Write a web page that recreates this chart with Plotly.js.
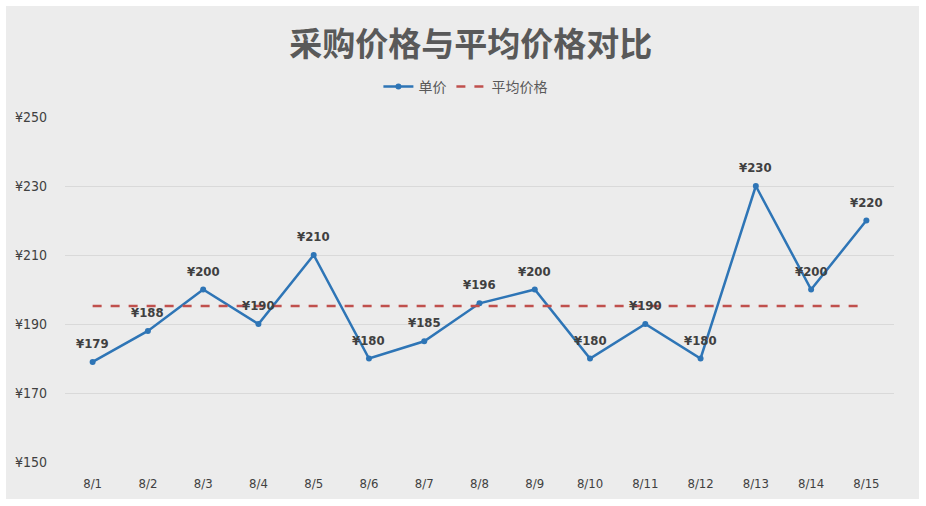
<!DOCTYPE html>
<html>
<head>
<meta charset="utf-8">
<script src="https://cdn.plot.ly/plotly-3.0.1.min.js"></script>
<style>
  html, body { margin: 0; padding: 0; background: #ffffff; width: 926px; height: 506px; overflow: hidden; }
  #chart { position: absolute; left: 6px; top: 6px; width: 913px; height: 493px; }
</style>
</head>
<body>
<div id="chart"></div>
<script>
const categories = ["8/1","8/2","8/3","8/4","8/5","8/6","8/7","8/8","8/9","8/10","8/11","8/12","8/13","8/14","8/15"];
const unitPrice = [179,188,200,190,210,180,185,196,200,180,190,180,230,200,220];
const avgPrice = [195.2,195.2,195.2,195.2,195.2,195.2,195.2,195.2,195.2,195.2,195.2,195.2,195.2,195.2,195.2];
const yTickVals = [150,170,190,210,230,250];
const yTickText = ["¥150","¥170","¥190","¥210","¥230","¥250"];

const cjk = '"Noto Sans CJK SC", "Noto Sans", sans-serif';
const narrow = '"DejaVu Sans Condensed", "DejaVu Sans", sans-serif';

const traces = [
  {
    x: categories, y: unitPrice, name: "单价", type: "scatter", mode: "lines+markers",
    line: { color: "#2e75b6", width: 2.5 },
    marker: { color: "#2e75b6", size: 6 }
  },
  {
    x: categories, y: avgPrice, name: "平均价格", type: "scatter", mode: "lines",
    line: { color: "#c0504d", width: 2.5, dash: "dash" }
  }
];

const annotations = categories.map((c, i) => ({
  x: c, y: unitPrice[i], xref: "x", yref: "y",
  text: "<b>¥" + unitPrice[i] + "</b>",
  showarrow: false, yanchor: "bottom", yshift: 9,
  font: { family: narrow, size: 13, color: "#404040" }
}));

const layout = {
  width: 913, height: 493,
  paper_bgcolor: "#ececec", plot_bgcolor: "rgba(0,0,0,0)",
  margin: { l: 59, r: 25, t: 111, b: 37 },
  title: {
    text: "<b>采购价格与平均价格对比</b>",
    font: { family: cjk, size: 33, color: "#595959" },
    xref: "container", x: 0.509, xanchor: "center",
    yref: "container", y: 0.922, yanchor: "middle"
  },
  showlegend: true,
  legend: {
    orientation: "h", x: 0.483, xanchor: "center", y: 1.087, yanchor: "middle",
    font: { family: cjk, size: 14, color: "#595959" },
    bgcolor: "rgba(0,0,0,0)"
  },
  annotations: annotations,
  xaxis: {
    type: "category", range: [-0.5, 14.5],
    showgrid: false, zeroline: false, showline: false, ticks: "",
    tickfont: { family: narrow, size: 13, color: "#404040" },
    ticklabelstandoff: 12
  },
  yaxis: {
    range: [150, 250], tickvals: yTickVals, ticktext: yTickText,
    showgrid: true, gridcolor: "#d9d9d9", gridwidth: 1, zeroline: false, showline: false, ticks: "",
    tickfont: { family: narrow, size: 14, color: "#404040" },
    ticklabelstandoff: 17
  }
};

Plotly.newPlot("chart", traces, layout, { displayModeBar: false, staticPlot: true });
</script>
</body>
</html>
